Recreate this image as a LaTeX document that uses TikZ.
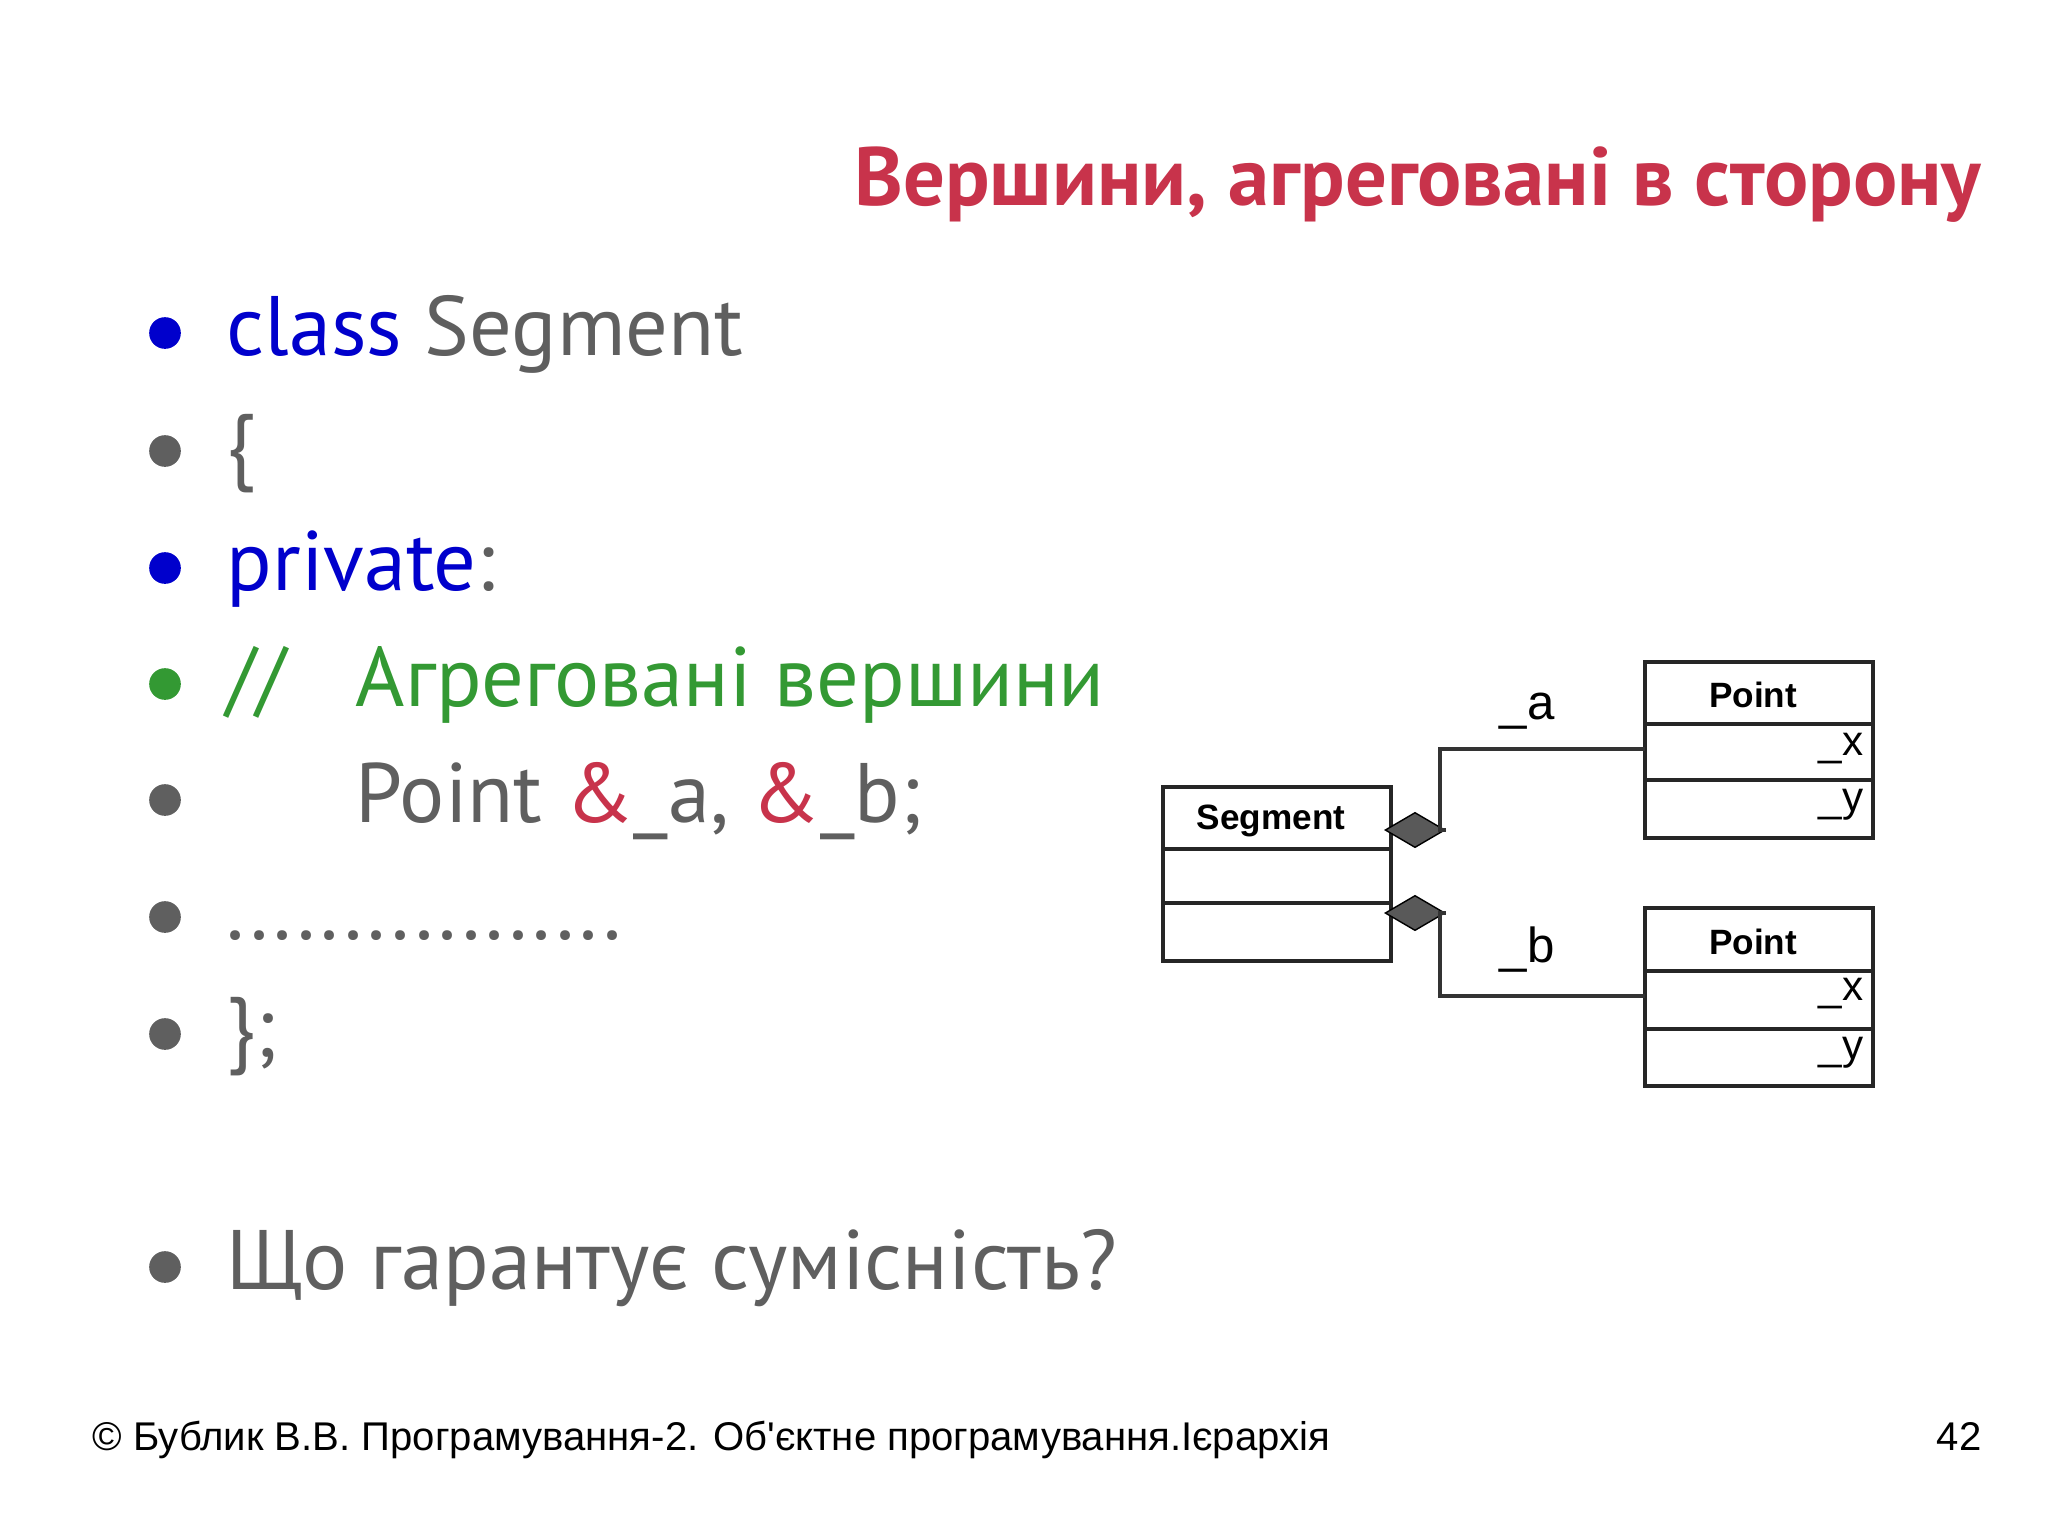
\documentclass[tikz,border=0pt]{standalone}
\usepackage{fontspec}
\setmainfont{PT Sans}
\newfontfamily\arialf{Liberation Sans}
\usetikzlibrary{shapes.geometric}
\definecolor{tred}{HTML}{C8334B}
\definecolor{kblue}{HTML}{0000CC}
\definecolor{kgrey}{HTML}{5F5F5F}
\definecolor{kgreen}{HTML}{339933}
\begin{document}
\begin{tikzpicture}[x=0.01cm,y=-0.01cm,
  line/.style={anchor=base west,font=\fontsize{24}{29}\selectfont,inner sep=0pt},
  bul/.style={circle,fill=#1,inner sep=0pt,minimum size=9pt},
  umlbox/.style={draw=black!85,line width=1.3pt},
  small/.style={font=\arialf\fontsize{12}{14}\selectfont,inner sep=0pt},
  dia/.style={diamond,fill=black!65,draw=black,inner sep=0pt,minimum width=17pt,minimum height=10pt}]
\fill[white] (0,0) rectangle (2048,1536);
\node[anchor=base east,text=tred,font=\bfseries\fontsize{23.5}{27}\selectfont,inner sep=0pt] (title) at (1982,205) {Вершини, агреговані в сторону};
% bullets and lines
\node[bul=kblue] (b1) at (165,333) {};
\node[line,text=kblue] (t1) at (226,355) {class \textcolor{kgrey}{Segment}};
\node[bul=kgrey] (b2) at (165,451) {};
\node[line,text=kgrey] (t2) at (226,473) {\{};
\node[bul=kblue] (b3) at (165,568) {};
\node[line,text=kblue] (t3) at (226,590) {private\textcolor{kgrey}{:}};
\node[bul=kgreen] (b4) at (165,684) {};
\node[line,text=kgreen] (t4a) at (226,706) {//};
\node[line,text=kgreen] (t4) at (355,706) {Агреговані вершини};
\node[bul=kgrey] (b5) at (165,800) {};
\node[line,text=kgrey] (t5) at (355,822) {Point \textcolor{tred}{\&}\_a, \textcolor{tred}{\&}\_b;};
\node[bul=kgrey] (b6) at (165,917) {};
\node[line,text=kgrey] (t6) at (226,939) {.................};
\node[bul=kgrey] (b7) at (165,1034) {};
\node[line,text=kgrey] (t7) at (226,1056) {\};};
\node[bul=kgrey] (b8) at (165,1267) {};
\node[line,text=kgrey] (t8) at (226,1289) {Що гарантує сумісність?};
% footer
\node[anchor=base west,font=\arialf\fontsize{11.4}{13}\selectfont,inner sep=0pt] (foot) at (92,1450) {© Бублик В.В. Програмування-2. Об'єктне програмування.Ієрархія};
\node[anchor=base east,font=\arialf\fontsize{11.4}{13}\selectfont,inner sep=0pt] (pg) at (1982,1450) {42};
% UML
\draw[umlbox] (1163,787) rectangle (1391,961);
\draw[umlbox] (1163,849) -- (1391,849);
\draw[umlbox] (1163,903) -- (1391,903);
\node[small,font=\arialf\bfseries\fontsize{10}{12}\selectfont] (seg) at (1271,821) {Segment};
\draw[umlbox] (1645,662) rectangle (1873,838);
\draw[umlbox] (1645,724) -- (1873,724);
\draw[umlbox] (1645,780) -- (1873,780);
\node[small,font=\arialf\bfseries\fontsize{10}{12}\selectfont] (p1) at (1753,695) {Point};
\node[small,anchor=east] (x1) at (1864,749) {\_x};
\node[small,anchor=east] (y1) at (1864,805) {\_y};
\draw[umlbox] (1645,908) rectangle (1873,1086);
\draw[umlbox] (1645,971) -- (1873,971);
\draw[umlbox] (1645,1029) -- (1873,1029);
\node[small,font=\arialf\bfseries\fontsize{10}{12}\selectfont] (p2) at (1753,942) {Point};
\node[small,anchor=east] (x2) at (1864,994) {\_x};
\node[small,anchor=east] (y2) at (1864,1053) {\_y};
\node[dia] (d1) at (1415,830) {};
\node[dia] (d2) at (1415,913) {};
\coordinate (c1) at (1440,749);
\coordinate (c2) at (1440,996);
\draw[line width=1.3pt,black!80] (d1.east) -- (1440,830) -- (c1) -- (1645,749);
\draw[line width=1.3pt,black!80] (d2.east) -- (1440,913) -- (c2) -- (1645,996);
\node[small,font=\arialf\fontsize{14}{16}\selectfont] (la) at (1527,711) {\_a};
\node[small,font=\arialf\fontsize{14}{16}\selectfont] (lb) at (1527,950) {\_b};
\end{tikzpicture}
\end{document}
